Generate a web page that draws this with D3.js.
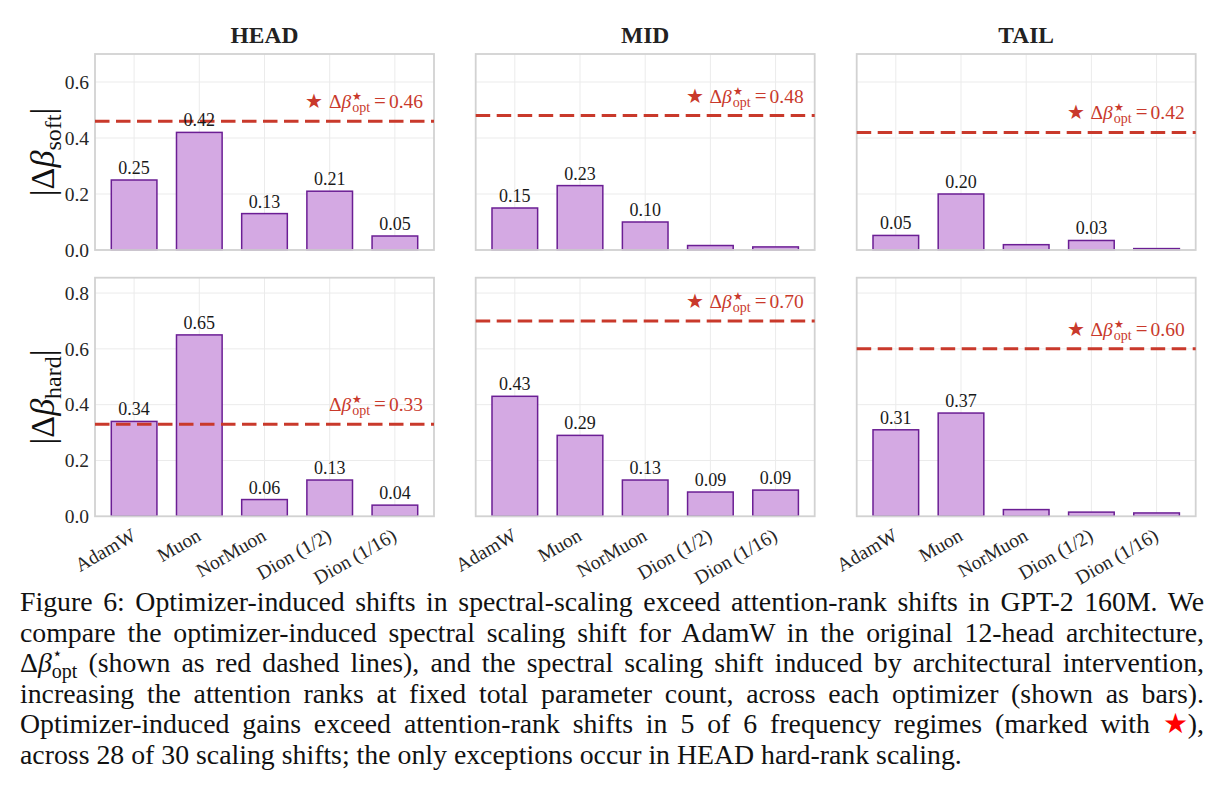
<!DOCTYPE html>
<html>
<head>
<meta charset="utf-8">
<script src="https://cdn.jsdelivr.net/npm/d3@7"></script>
<style>
  body { margin: 0; background: #fff; width: 1227px; height: 798px; overflow: hidden; position: relative;
         font-family: 'Liberation Serif', serif; }
  #chart { position: absolute; left: 0; top: 0; font-family: 'Liberation Serif', serif; }
  .cap { position: absolute; left: 20px; font-size: 27.8px; line-height: 30px; color: #111;
         white-space: nowrap; font-family: 'Liberation Serif', serif; }
  .mw { position: relative; }
  .mw .sup { position: absolute; left: 0; top: -0.5em; font-size: 0.6em; }
  .mw .sub { font-size: 0.72em; vertical-align: -0.3em; }
</style>
</head>
<body>
<svg id="chart" width="1227" height="798"></svg>
<div id="caption"></div>
<script>
// ---- data ----
var categories = ["AdamW", "Muon", "NorMuon", "Dion (1/2)", "Dion (1/16)"];
var regimes = ["HEAD", "MID", "TAIL"];

var softHead = [0.25, 0.42, 0.13, 0.21, 0.05];
var softMid  = [0.15, 0.23, 0.10, 0.016, 0.011];
var softTail = [0.052, 0.20, 0.019, 0.034, 0.005];

var hardHead = [0.34, 0.65, 0.06, 0.13, 0.04];
var hardMid  = [0.43, 0.29, 0.13, 0.087, 0.094];
var hardTail = [0.31, 0.37, 0.024, 0.015, 0.012];

var softOpt = [0.46, 0.48, 0.42];
var hardOpt = [0.33, 0.70, 0.60];

var softTicks = [0, 0.2, 0.4, 0.6];
var hardTicks = [0, 0.2, 0.4, 0.6, 0.8];

// ---- layout ----
var colX = [95, 475.7, 856.7], colW = 339;
var rows = [
  { sub: "soft", series: [softHead, softMid, softTail], opt: softOpt, ticks: softTicks, ymax: 0.70, top: 54, h: 196 },
  { sub: "hard", series: [hardHead, hardMid, hardTail], opt: hardOpt, ticks: hardTicks, ymax: 0.855, top: 277.7, h: 238.6 }
];

var red = "#c9392b", barFill = "#d4a9e3", barEdge = "#6b1e94";
var fmt = d3.format(".2f");
var serif = "'Liberation Serif', serif";

var svg = d3.select("#chart");

rows.forEach(function(row, ri) {
  row.series.forEach(function(vals, ci) {
    var g = svg.append("g").attr("transform", "translate(" + colX[ci] + "," + row.top + ")")
      .attr("font-family", serif);

    var x = d3.scaleBand().domain(categories).range([0, colW]).paddingInner(0.3).paddingOuter(0.25);
    var y = d3.scaleLinear().domain([0, row.ymax]).range([row.h, 0]);

    // grid
    g.selectAll(".hg").data(row.ticks).enter().append("line")
      .attr("x1", 0).attr("x2", colW)
      .attr("y1", function(d) { return y(d); }).attr("y2", function(d) { return y(d); })
      .attr("stroke", "#ebebeb").attr("stroke-width", 1);
    g.selectAll(".vg").data(categories).enter().append("line")
      .attr("x1", function(d) { return x(d) + x.bandwidth() / 2; })
      .attr("x2", function(d) { return x(d) + x.bandwidth() / 2; })
      .attr("y1", 0).attr("y2", row.h)
      .attr("stroke", "#ebebeb").attr("stroke-width", 1);

    // bars
    g.selectAll(".bar").data(vals).enter().append("rect")
      .attr("x", function(d, i) { return x(categories[i]); })
      .attr("width", x.bandwidth())
      .attr("y", function(d) { return y(d); })
      .attr("height", function(d) { return row.h - y(d); })
      .attr("fill", barFill).attr("stroke", barEdge).attr("stroke-width", 1.5);

    // frame
    g.append("rect").attr("width", colW).attr("height", row.h)
      .attr("fill", "none").attr("stroke", "#d2d2d2").attr("stroke-width", 1.8);

    // optimizer dashed line
    var opt = row.opt[ci];
    g.append("line").attr("x1", 0).attr("x2", colW)
      .attr("y1", y(opt)).attr("y2", y(opt))
      .attr("stroke", red).attr("stroke-width", 3).attr("stroke-dasharray", "14.5,6.5");

    // value labels (small bars left unlabeled)
    g.selectAll(".val").data(vals.map(function(v, i) { return { v: v, c: categories[i] }; }))
      .enter().filter(function(d) { return d.v >= 0.03; }).append("text")
      .attr("x", function(d) { return x(d.c) + x.bandwidth() / 2; })
      .attr("y", function(d) { return y(d.v) - 6; })
      .attr("text-anchor", "middle").attr("font-size", 18).attr("fill", "#1a1a1a")
      .text(function(d) { return fmt(d.v); });

    // opt label, with star when it beats every bar
    var star = opt > d3.max(vals);
    var t = g.append("text").attr("x", colW - 11).attr("y", y(opt) - 13)
      .attr("text-anchor", "end").attr("font-size", 19.5).attr("fill", red);
    if (star) t.append("tspan").text("\u2605").attr("dx", 0);
    t.append("tspan").attr("dx", star ? 6 : 0).text("\u0394");
    t.append("tspan").attr("font-style", "italic").text("\u03b2");
    var sup = t.append("tspan").attr("font-size", 11).attr("dy", -8).attr("dx", 1).text("\u2605");
    var w = sup.node().getComputedTextLength();
    t.append("tspan").attr("font-size", 14).attr("dx", -w).attr("dy", 12).text("opt");
    t.append("tspan").attr("dy", -4).attr("dx", 4).attr("font-size", 21).text("=");
    t.append("tspan").attr("dx", 3).text(fmt(opt));

    // y ticks on the first column
    if (ci === 0) {
      g.selectAll(".yt").data(row.ticks).enter().append("text")
        .attr("x", -6).attr("y", function(d) { return y(d); })
        .attr("dy", "0.35em").attr("text-anchor", "end")
        .attr("font-size", 19.5).attr("fill", "#262626")
        .text(function(d) { return d3.format(".1f")(d); });

      var yl = g.append("text")
        .attr("transform", "translate(-41," + (row.h / 2) + ") rotate(-90)")
        .attr("text-anchor", "middle").attr("font-size", 34).attr("fill", "#111");
      yl.append("tspan").text("|\u0394");
      yl.append("tspan").attr("font-style", "italic").text("\u03b2");
      yl.append("tspan").attr("font-size", 24).attr("dy", 7).text(row.sub);
      yl.append("tspan").attr("dy", -7).text("|");
    }

    // column titles
    if (ri === 0) {
      g.append("text").attr("x", colW / 2).attr("y", -11.5)
        .attr("text-anchor", "middle").attr("font-size", 23.5).attr("font-weight", "bold")
        .attr("fill", "#222").text(regimes[ci]);
    }

    // rotated category labels on the bottom row
    if (ri === 1) {
      g.selectAll(".xt").data(categories).enter().append("text")
        .attr("transform", function(d) {
          return "translate(" + (x(d) + x.bandwidth() / 2 + 3) + "," + (row.h + 23) + ") rotate(-30)";
        })
        .attr("text-anchor", "end").attr("font-size", 19.5).attr("fill", "#262626")
        .text(function(d) { return d; });
    }
  });
});

// ---- caption: one div per line, justified by measured word spacing ----
var capLines = [
  "Figure 6: Optimizer-induced shifts in spectral-scaling exceed attention-rank shifts in GPT-2 160M. We",
  "compare the optimizer-induced spectral scaling shift for AdamW in the original 12-head architecture,",
  "<span>\u0394<i>\u03b2</i><span class='mw'><span class='sup'>\u22c6</span><span class='sub'>opt</span></span></span> (shown as red dashed lines), and the spectral scaling shift induced by architectural intervention,",
  "increasing the attention ranks at fixed total parameter count, across each optimizer (shown as bars).",
  "Optimizer-induced gains exceed attention-rank shifts in 5 of 6 frequency regimes (marked with <span style='color:#ff0000'>\u2605</span>),",
  "across 28 of 30 scaling shifts; the only exceptions occur in HEAD hard-rank scaling."
];
var capW = 1184;
d3.select("#caption").selectAll("div").data(capLines).enter().append("div")
  .attr("class", "cap")
  .style("top", function(d, i) { return (587 + i * 30.6) + "px"; })
  .html(function(d) { return d; })
  .each(function(d, i) {
    if (i === capLines.length - 1) return;
    var natural = this.getBoundingClientRect().width;
    var spaces = this.textContent.split(" ").length - 1;
    d3.select(this).style("word-spacing", ((capW - natural) / spaces) + "px");
  });
</script>
</body>
</html>
